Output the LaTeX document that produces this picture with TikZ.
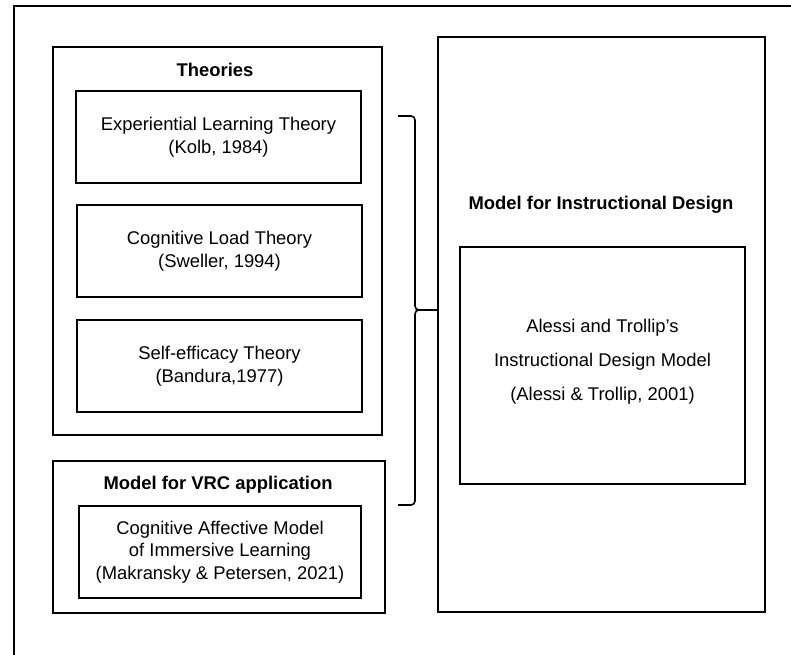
\documentclass[tikz,border=0pt]{standalone}
\usepackage{fontspec}
\setmainfont{Liberation Sans}
\usetikzlibrary{fit}

\begin{document}
\begin{tikzpicture}[
  x=0.75pt, y=-0.75pt,
  font=\fontsize{13.8}{16.9}\selectfont,
  grp/.style={draw,line width=1.4pt,inner sep=0pt},
  box/.style={draw,line width=1.4pt,inner sep=0pt,align=center,
    minimum width=213.75pt,minimum height=69.5pt},
  ttl/.style={font=\fontsize{13.8}{16.9}\selectfont\bfseries},
  brc/.style={line width=1.2pt,rounded corners=3pt},
]
\useasboundingbox (0,0) rectangle (791,655);
% outer frame, cut off by the page edge
\draw[line width=1.5pt] (14,655) -- (14,6) -- (791,6);

% left column: theories
\node[grp,fit={(53,47) (382,435)}] (theories) {};
\node[ttl] (theoriesttl) at (215,70) {Theories};
\node[box] (kolb) at (218.5,137)
  {Experiential Learning Theory\\(Kolb, 1984)};
\node[box] (sweller) at (219.5,251)
  {Cognitive Load Theory\\(Sweller, 1994)};
\node[box] (bandura) at (219.5,366)
  {Self-efficacy Theory\\(Bandura,1977)};

% left column: VRC model
\node[grp,fit={(53,461) (385,613)}] (vrc) {};
\node[ttl] (vrcttl) at (218,485) {Model for VRC application};
\node[box,minimum width=211.5pt] (camil) at (220,552)
  {Cognitive Affective Model\\of Immersive Learning\\(Makransky \& Petersen, 2021)};

% right column
\node[grp,fit={(438,37) (765,612)}] (design) {};
\node[ttl] (designttl) at (601,205) {Model for Instructional Design};
\node[box,minimum height=177.75pt,font=\fontsize{13.8}{25.5}\selectfont] (alessi) at (602.5,365.5)
  {Alessi and Trollip's\\Instructional Design Model\\(Alessi \& Trollip, 2001)\\[-16.5pt]};

% brace
\coordinate (bmid) at (415,310);
\draw[brc] (398,116) -- (415,116) -- (bmid) -- (bmid -| design.west);
\draw[brc] (398,505) -- (415,505) -- (bmid) -- (bmid -| design.west);
\end{tikzpicture}
\end{document}
